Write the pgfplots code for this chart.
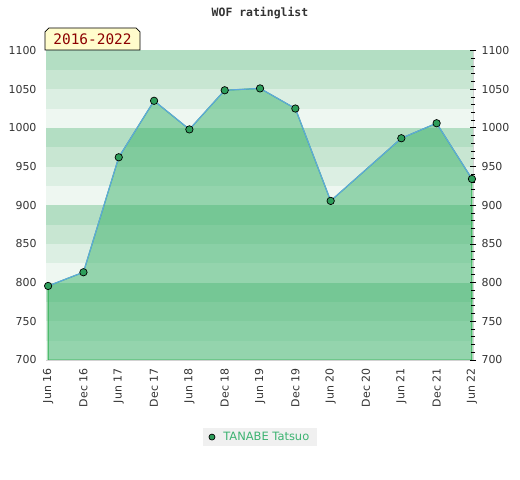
\documentclass[border=0pt]{standalone}
\usepackage{fontspec}
\setmainfont{DejaVu Sans}
\newfontfamily\monofont{DejaVu Sans Mono}
\usepackage{pgfplots}
\pgfplotsset{compat=1.18}

\definecolor{bandA}{HTML}{B3DEC3}
\definecolor{bandB}{HTML}{C8E6D2}
\definecolor{bandC}{HTML}{DCEFE3}
\definecolor{bandD}{HTML}{EEF7F1}
\definecolor{areafill}{RGB}{50,175,100}
\definecolor{edgegreen}{HTML}{2DB04F}
\definecolor{ratline}{HTML}{5FA8DC}
\definecolor{markfill}{HTML}{2E9E5B}
\definecolor{legtext}{HTML}{3CB371}
\definecolor{labgray}{HTML}{333333}

\begin{document}
\begin{tikzpicture}[x=1bp,y=1bp]
\useasboundingbox (-46,-120) rectangle (474,360);

\pgfplotsset{
  common/.style={
    scale only axis, width=427bp, height=309.5bp,
    xmin=-0.06, xmax=12.03, ymin=700, ymax=1100,
    ytick={700,750,...,1100},
    /pgf/number format/1000 sep={},
    /pgf/number format/assume math mode=true,
    tick label style={font=\fontsize{11}{13}\selectfont, text=labgray},
  }
}

\begin{axis}[common,
  axis line style={draw=gray!35},
  xtick={0,...,12},
  xticklabels={Jun 16,Dec 16,Jun 17,Dec 17,Jun 18,Dec 18,Jun 19,Dec 19,Jun 20,Dec 20,Jun 21,Dec 21,Jun 22},
  x tick label style={rotate=90, anchor=east},
  xticklabel shift=5bp,
  yticklabel shift=6bp,
  major tick length=0pt,
  legend style={at={(0.501,-0.249)}, anchor=center, fill=black!6, draw=none,
    font=\fontsize{11.5}{13}\selectfont, text=legtext, inner xsep=6pt, inner ysep=2.5pt},
  legend cell align=left,
  legend image code/.code={\draw[fill=markfill, draw=black, line width=0.7pt] (4bp,0) circle (3bp);},
]
% background bands
\pgfplotsinvokeforeach{700,800,900,1000}{
  \fill[bandA] (axis cs:-0.06,#1+75) rectangle (axis cs:12.03,#1+100);
  \fill[bandB] (axis cs:-0.06,#1+50) rectangle (axis cs:12.03,#1+75);
  \fill[bandC] (axis cs:-0.06,#1+25) rectangle (axis cs:12.03,#1+50);
  \fill[bandD] (axis cs:-0.06,#1) rectangle (axis cs:12.03,#1+25);
}
% area under the rating line
\addplot[fill=areafill, fill opacity=0.48, draw=edgegreen, line width=1pt, forget plot]
  coordinates {(0,795.7) (1,813.4) (2,962) (3,1035) (4,998) (5,1048.6) (6,1051)
               (7,1025) (8,905.6) (10,986.6) (11,1006) (12,934)} \closedcycle;
\addplot[color=ratline, line width=1.2pt, forget plot]
  coordinates {(0,795.7) (1,813.4) (2,962) (3,1035) (4,998) (5,1048.6) (6,1051)
               (7,1025) (8,905.6) (10,986.6) (11,1006) (12,934)};
\addplot[only marks, mark=*, mark size=3.7bp, mark options={fill=markfill, draw=black, line width=0.7pt}]
  coordinates {(0,795.7) (1,813.4) (2,962) (3,1035) (4,998) (5,1048.6) (6,1051)
               (7,1025) (8,905.6) (10,986.6) (11,1006) (12,934)};
\addlegendentry{\hspace{6bp}TANABE Tatsuo}
\end{axis}

\begin{axis}[common,
  axis x line=none,
  axis y line*=right,
  y axis line style={draw=none},
  yticklabel pos=right,
  yticklabel shift=2bp,
  minor y tick num=4,
  major tick length=6bp,
  minor tick length=4bp,
  tick style={black, line width=0.8pt},
  ytick align=center,
]
\end{axis}

\node[font=\monofont\bfseries\fontsize{11.5}{13}\selectfont, text=labgray] at (214,347) {WOF ratinglist};

\draw[fill=yellow!20!white, draw=black, line width=0.7pt]
  (-1,310) -- (-1,328) -- (3,332) -- (90,332) -- (94,328) -- (94,310) -- cycle;
\node[font=\monofont\fontsize{14.5}{16}\selectfont, text=red!55!black] at (46.5,320.5) {2016-2022};
\end{tikzpicture}
\end{document}
